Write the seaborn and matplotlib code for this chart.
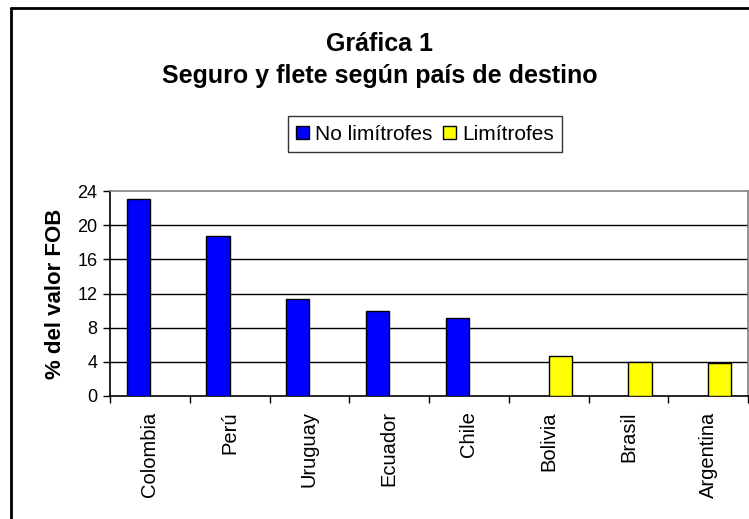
import matplotlib
matplotlib.use("Agg")
import matplotlib.pyplot as plt
import seaborn as sns
import pandas as pd
import numpy as np
from matplotlib.patches import Patch
from matplotlib.lines import Line2D

paises = ["Colombia", "Perú", "Uruguay", "Ecuador", "Chile", "Bolivia", "Brasil", "Argentina"]
valores = [23.1, 18.7, 11.4, 9.9, 9.1, 4.7, 4.0, 3.9]
grupos = ["No limítrofes"] * 5 + ["Limítrofes"] * 3
series = ["No limítrofes", "Limítrofes"]
colores = ["#0000FF", "#FFFF00"]
yticks = [0, 4, 8, 12, 16, 20, 24]

sns.set_style("white")
plt.rcParams['font.family'] = ['Liberation Sans', 'DejaVu Sans']
plt.rcParams['text.color'] = 'black'
plt.rcParams['axes.labelcolor'] = 'black'
plt.rcParams['xtick.color'] = 'black'
plt.rcParams['ytick.color'] = 'black'

W, H = 749, 519
fig = plt.figure(figsize=(W / 100, H / 100), dpi=100)
ax = fig.add_axes([110 / W, (H - 396) / H, 638 / W, 205 / H])

df = pd.DataFrame({"pais": paises, "valor": valores, "grupo": grupos})
sns.barplot(data=df, x="pais", y="valor", hue="grupo", hue_order=series,
            palette=dict(zip(series, colores)), saturation=1, dodge=True, width=0.58,
            edgecolor="black", linewidth=1.0, ax=ax, legend=False, zorder=3)

ax.set_xlim(-0.5, len(paises) - 0.5)
ax.set_ylim(0, 24)
ax.set_yticks(yticks)
ax.set_yticklabels([str(t) for t in yticks], fontsize=13)
for t in yticks[1:-1]:
    ax.axhline(t, color="black", lw=1.0, zorder=1)

ax.set_xticks(range(len(paises)))
ax.set_xticklabels(paises, rotation=90, fontsize=14.5)
ax.set_xticks(np.arange(-0.5, len(paises)), minor=True)
ax.tick_params(axis="x", which="major", length=0, pad=11)
ax.tick_params(axis="x", which="minor", length=5, width=1, color="black", direction="out", bottom=True)
ax.tick_params(axis="y", length=5, width=1, color="black", direction="out", left=True, pad=4)

ax.set_xlabel("")
ax.set_ylabel("% del valor FOB", fontsize=16, fontweight="bold", labelpad=8)

for s in ["left", "bottom"]:
    ax.spines[s].set_color("black")
    ax.spines[s].set_linewidth(1.2)
for s in ["top", "right"]:
    ax.spines[s].set_color("#808080")
    ax.spines[s].set_linewidth(1.2)

fig.text(380 / W, 1 - 44 / H, "Gráfica 1", ha="center", va="center", fontsize=18, fontweight="bold")
fig.text(380 / W, 1 - 76 / H, "Seguro y flete según país de destino", ha="center", va="center",
         fontsize=18, fontweight="bold")

handles = [Patch(facecolor=c, edgecolor="black", linewidth=1) for c in colores]
leg = fig.legend(handles, series, loc="center", bbox_to_anchor=(425 / W, 1 - 134 / H), ncol=2,
                 fontsize=15, frameon=True, fancybox=False, edgecolor="black",
                 handlelength=0.6, handleheight=0.6, handletextpad=0.3, columnspacing=0.5,
                 borderpad=0.4, borderaxespad=0)
leg.get_frame().set_linewidth(1.0)

fig.add_artist(Line2D([11 / W, 11 / W], [0, 1 - 8 / H], color="black", lw=2, transform=fig.transFigure))
fig.add_artist(Line2D([11 / W, 1], [1 - 8 / H, 1 - 8 / H], color="black", lw=2, transform=fig.transFigure))

fig.savefig("out.png", dpi=100)
